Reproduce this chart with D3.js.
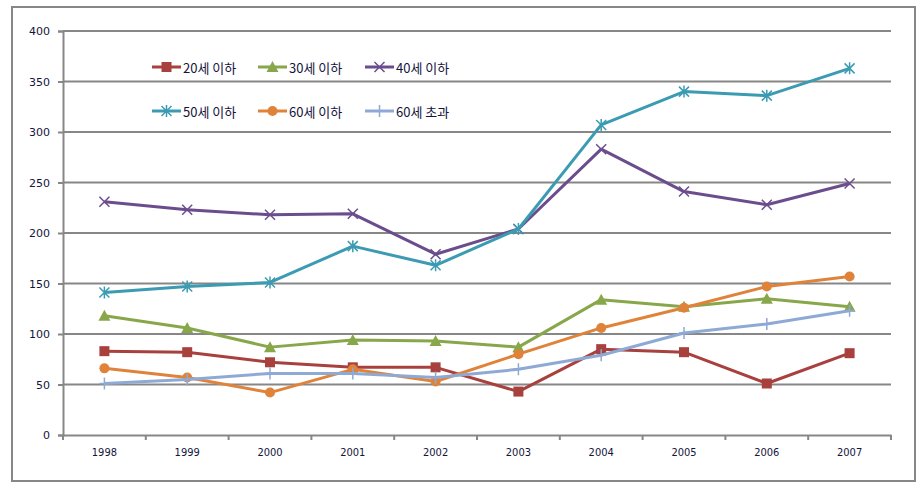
<!DOCTYPE html>
<html><head><meta charset="utf-8">
<script src="https://cdn.jsdelivr.net/npm/d3@7"></script>
<style>body{margin:0;background:#fff;} svg{display:block;}</style>
</head><body>
<svg id="c" width="922" height="494"></svg>
<script>
const years = ["1998","1999","2000","2001","2002","2003","2004","2005","2006","2007"];
const yTicks = [0,50,100,150,200,250,300,350,400];
const s20 = [83,82,72,67,67,43,85,82,51,81];
const s30 = [118,106,87,94,93,87,134,127,135,127];
const s40 = [231,223,218,219,179,204,283,241,228,249];
const s50 = [141,147,151,187,168,204,307,340,336,363];
const s60 = [66,57,42,65,53,80,106,126,147,157];
const s60p = [51,55,61,61,57,65,79,101,110,123];
const names = ["20세 이하","30세 이하","40세 이하","50세 이하","60세 이하","60세 초과"];

const series = [
  {name:names[0], values:s20, color:"#A8403E", marker:"square"},
  {name:names[1], values:s30, color:"#88A74A", marker:"triangle"},
  {name:names[2], values:s40, color:"#6B4D8D", marker:"x"},
  {name:names[3], values:s50, color:"#3B9BB2", marker:"star"},
  {name:names[4], values:s60, color:"#E0833A", marker:"circle"},
  {name:names[5], values:s60p, color:"#8FA9D5", marker:"plus"}
];

const svg = d3.select("#c");
const grey = "#878787";
const txt = "#14143c";

// outer border
svg.append("rect").attr("x",12).attr("y",7).attr("width",903).attr("height",474)
  .attr("fill","none").attr("stroke",grey).attr("stroke-width",2);

const x = d3.scaleBand().domain(years).range([63,891]);
const y = d3.scaleLinear().domain([0,400]).range([435,31]);
const cx = d => x(d) + x.bandwidth()/2;

// gridlines
svg.append("g").selectAll("line").data(yTicks.filter(t=>t>0)).join("line")
  .attr("x1",63).attr("x2",891).attr("y1",d=>y(d)).attr("y2",d=>y(d))
  .attr("stroke",grey).attr("stroke-width",2);

// y axis
const ya = svg.append("g").attr("transform","translate(63,0)")
  .call(d3.axisLeft(y).tickValues(yTicks).tickSize(5).tickPadding(8).tickFormat(d3.format("d")));
ya.select(".domain").attr("stroke",grey).attr("stroke-width",2);
ya.selectAll(".tick line").attr("stroke",grey).attr("stroke-width",2);
ya.selectAll("text").attr("fill",txt).style("font-family","'DejaVu Sans', Verdana, sans-serif").style("font-size","11px");

// x axis
const xa = svg.append("g").attr("transform","translate(0,435)")
  .call(d3.axisBottom(x).tickSize(0).tickPadding(13));
xa.select(".domain").attr("stroke",grey).attr("stroke-width",2);
xa.selectAll("text").attr("fill",txt).style("font-family","'DejaVu Sans Condensed','Liberation Sans Narrow', Arial, sans-serif").style("font-size","11px");
const bounds = years.map(d=>x(d)).concat([x(years[years.length-1])+x.bandwidth()]);
xa.append("g").selectAll("line").data(bounds).join("line")
  .attr("x1",d=>d).attr("x2",d=>d).attr("y1",0).attr("y2",5)
  .attr("stroke",grey).attr("stroke-width",2);

function drawMarker(g, type, color, px, py){
  if(type==="square"){
    g.append("rect").attr("x",px-5).attr("y",py-5).attr("width",10).attr("height",10).attr("fill",color);
  } else if(type==="triangle"){
    g.append("path").attr("d",`M${px},${py-6}L${px+6},${py+5}L${px-6},${py+5}Z`).attr("fill",color);
  } else if(type==="circle"){
    g.append("circle").attr("cx",px).attr("cy",py).attr("r",5).attr("fill",color);
  } else if(type==="x"){
    g.append("path").attr("d",`M${px-5},${py-5}L${px+5},${py+5}M${px-5},${py+5}L${px+5},${py-5}`)
      .attr("stroke",color).attr("stroke-width",1.5);
  } else if(type==="star"){
    g.append("path").attr("d",`M${px-5},${py-5}L${px+5},${py+5}M${px-5},${py+5}L${px+5},${py-5}M${px},${py-6}L${px},${py+6}`)
      .attr("stroke",color).attr("stroke-width",1.5);
  } else if(type==="plus"){
    g.append("path").attr("d",`M${px},${py-6}L${px},${py+6}M${px-5},${py}L${px+5},${py}`)
      .attr("stroke",color).attr("stroke-width",1.5);
  }
}

const line = d3.line().x((d,i)=>cx(years[i])).y(d=>y(d));
series.forEach(s=>{
  const g = svg.append("g");
  g.append("path").datum(s.values).attr("d",line).attr("fill","none")
    .attr("stroke",s.color).attr("stroke-width",3).attr("stroke-linejoin","round");
  s.values.forEach((v,i)=>drawMarker(g,s.marker,s.color,cx(years[i]),y(v)));
});

// legend
const legX = [152,258,365], legY = [67,111];
series.forEach((s,i)=>{
  const lx = legX[i%3], ly = legY[Math.floor(i/3)];
  const g = svg.append("g");
  g.append("line").attr("x1",lx).attr("x2",lx+29).attr("y1",ly).attr("y2",ly)
    .attr("stroke",s.color).attr("stroke-width",3);
  drawMarker(g,s.marker,s.color,lx+14.5,ly);
  g.append("text").attr("x",lx+31).attr("y",ly+1).attr("dy","0.35em")
    .attr("fill",txt).style("font-family","'Noto Sans CJK KR','DejaVu Sans',sans-serif").style("font-size","13px")
    .text(s.name);
});
</script>
</body></html>
